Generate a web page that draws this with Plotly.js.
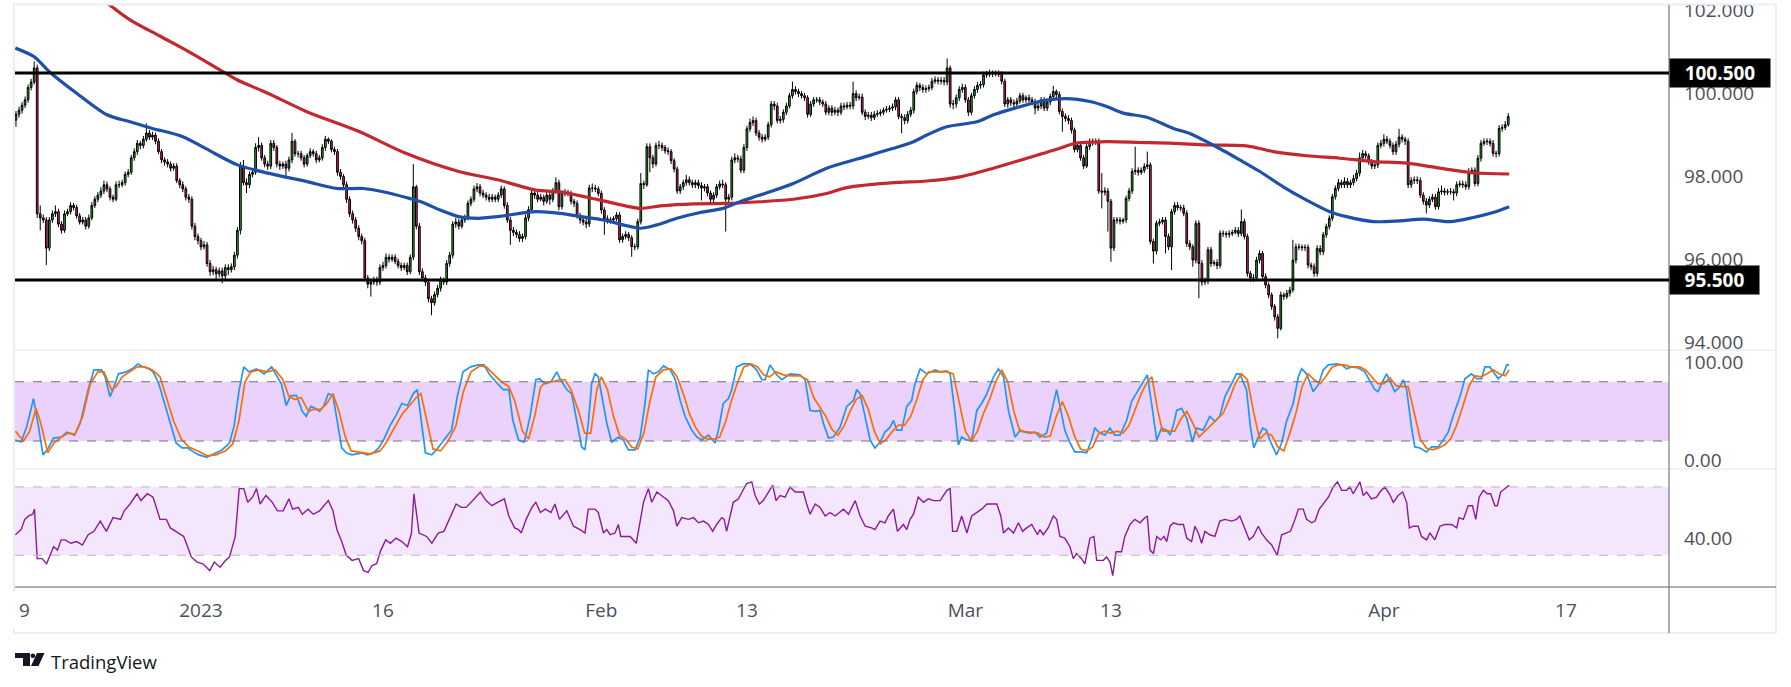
<!DOCTYPE html>
<html>
<head>
<meta charset="utf-8">
<script src="https://cdn.plot.ly/plotly-3.0.1.min.js"></script>
<style>html,body{margin:0;padding:0;background:#fff;}#chart{width:1791px;height:687px;}</style>
</head>
<body>
<div id="chart"></div>
<script>
// ---------- DATA (4H candles, bar 0 = first bar of Dec 19) ----------
const priceOpen = [
99.36,99.50,99.60,99.72,99.85,100.15,100.28,100.62,97.10,97.00,
96.95,96.27,96.95,97.10,97.15,96.85,96.70,97.10,97.15,97.30,
97.25,97.05,96.90,96.95,96.80,97.00,97.30,97.45,97.55,97.65,
97.80,97.70,97.50,97.45,97.80,97.80,97.85,98.05,98.10,98.45,
98.60,98.80,98.75,98.90,99.05,98.95,99.00,98.85,98.60,98.40,
98.35,98.30,98.20,98.25,97.90,97.80,97.70,97.50,97.45,96.80,
96.55,96.45,96.30,96.35,95.90,95.70,95.75,95.65,95.72,95.60,
95.80,95.75,95.82,96.10,96.70,98.25,97.85,97.80,98.05,98.10,
98.70,98.75,98.45,98.30,98.25,98.80,98.70,98.30,98.25,98.30,
98.20,98.40,98.85,98.55,98.55,98.45,98.30,98.50,98.60,98.55,
98.40,98.45,98.70,98.90,98.85,98.65,98.60,98.10,98.00,97.80,
97.45,97.10,96.95,96.75,96.55,96.45,95.55,95.40,95.45,95.50,
95.45,95.80,95.85,96.05,96.00,96.05,95.95,95.85,95.80,95.85,
95.70,96.05,97.75,96.80,95.70,95.55,95.45,95.05,94.95,95.15,
95.30,95.50,95.45,95.90,96.10,96.85,96.90,96.80,96.95,97.00,
97.35,97.45,97.70,97.75,97.60,97.55,97.50,97.45,97.50,97.45,
97.55,97.70,97.30,96.95,96.70,96.65,96.60,96.50,96.55,97.00,
97.20,97.60,97.55,97.45,97.50,97.40,97.55,97.45,97.65,97.85,
97.27,97.60,97.62,97.60,97.40,97.35,97.05,96.95,96.90,96.85,
97.72,97.72,97.70,97.59,97.19,96.98,96.95,96.95,96.98,97.07,
96.47,96.55,96.60,96.52,96.31,96.30,96.91,97.83,97.80,98.72,
98.45,98.30,98.75,98.75,98.70,98.62,98.60,98.38,98.18,97.65,
97.75,97.85,97.92,97.85,97.80,97.85,97.78,97.72,97.75,97.60,
97.45,97.55,97.75,97.82,97.80,97.45,97.50,98.40,98.45,98.42,
98.15,98.70,99.15,99.30,99.35,99.05,98.95,98.90,98.95,99.25,
99.75,99.70,99.35,99.38,99.55,99.70,99.95,100.10,100.05,100.00,
99.95,99.90,99.50,99.75,99.85,99.85,99.80,99.75,99.55,99.65,
99.55,99.60,99.55,99.70,99.68,99.72,99.70,100.00,99.90,99.92,
99.55,99.45,99.48,99.42,99.50,99.52,99.55,99.60,99.62,99.65,
99.68,99.85,99.45,99.42,99.35,99.50,99.60,100.05,100.20,100.15,
100.10,100.12,100.15,100.30,100.33,100.30,100.32,100.28,100.62,99.75,
99.75,99.90,100.10,100.15,99.85,99.55,99.95,100.10,100.20,100.22,
100.45,100.47,100.50,100.48,100.49,100.47,100.30,99.75,99.85,99.78,
99.75,99.82,99.95,99.85,99.90,99.85,99.80,99.65,99.70,99.85,
99.65,99.80,99.93,100.05,99.98,99.57,99.45,99.40,99.35,99.12,
98.65,98.75,98.45,98.25,98.72,98.85,98.82,98.85,97.65,97.62,
97.65,97.40,96.27,96.95,96.95,96.92,96.95,97.47,97.65,98.12,
98.15,98.10,98.15,98.24,98.28,96.43,96.20,96.87,96.90,96.95,
96.55,96.30,97.15,97.30,97.25,97.24,97.11,96.38,96.30,95.98,
96.87,95.90,95.45,95.48,96.23,95.90,95.92,95.85,96.63,96.62,
96.60,96.62,96.65,96.70,96.62,96.91,96.55,95.66,95.55,95.55,
95.98,96.14,95.58,95.38,95.14,94.86,94.61,94.33,95.14,95.10,
95.18,95.26,95.98,96.30,96.30,96.28,96.29,95.86,95.82,95.66,
96.26,96.18,96.59,96.79,96.99,97.51,97.71,97.85,97.80,97.88,
97.80,97.85,97.95,98.08,98.45,98.55,98.50,98.35,98.25,98.28,
98.75,98.80,98.90,98.85,98.75,98.60,98.78,98.95,98.90,98.85,
97.80,97.90,97.92,97.90,97.55,97.40,97.31,97.45,97.50,97.27,
97.63,97.65,97.62,97.63,97.63,97.60,97.80,97.82,97.80,97.75,
98.12,98.15,97.83,98.44,98.80,98.84,98.85,98.80,98.56,98.55,
99.16,99.18,99.25];
const priceClose = [
99.50,99.60,99.72,99.85,100.15,100.28,100.62,97.10,97.00,96.95,
96.27,96.95,97.10,97.15,96.85,96.70,97.10,97.15,97.30,97.25,
97.05,96.90,96.95,96.80,97.00,97.30,97.45,97.55,97.65,97.80,
97.70,97.50,97.45,97.80,97.80,97.85,98.05,98.10,98.45,98.60,
98.80,98.75,98.90,99.05,98.95,99.00,98.85,98.60,98.40,98.35,
98.30,98.20,98.25,97.90,97.80,97.70,97.50,97.45,96.80,96.55,
96.45,96.30,96.35,95.90,95.70,95.75,95.65,95.72,95.60,95.80,
95.75,95.82,96.10,96.70,98.25,97.85,97.80,98.05,98.10,98.70,
98.75,98.45,98.30,98.25,98.80,98.70,98.30,98.25,98.30,98.20,
98.40,98.85,98.55,98.55,98.45,98.30,98.50,98.60,98.55,98.40,
98.45,98.70,98.90,98.85,98.65,98.60,98.10,98.00,97.80,97.45,
97.10,96.95,96.75,96.55,96.45,95.55,95.40,95.45,95.50,95.45,
95.80,95.85,96.05,96.00,96.05,95.95,95.85,95.80,95.85,95.70,
96.05,97.75,96.80,95.70,95.55,95.45,95.05,94.95,95.15,95.30,
95.50,95.45,95.90,96.10,96.85,96.90,96.80,96.95,97.00,97.35,
97.45,97.70,97.75,97.60,97.55,97.50,97.45,97.50,97.45,97.55,
97.70,97.30,96.95,96.70,96.65,96.60,96.50,96.55,97.00,97.20,
97.60,97.55,97.45,97.50,97.40,97.55,97.45,97.65,97.85,97.27,
97.60,97.62,97.60,97.40,97.35,97.05,96.95,96.90,96.85,97.72,
97.72,97.70,97.59,97.19,96.98,96.95,96.95,96.98,97.07,96.47,
96.55,96.60,96.52,96.31,96.30,96.91,97.83,97.80,98.72,98.45,
98.30,98.75,98.75,98.70,98.62,98.60,98.38,98.18,97.65,97.75,
97.85,97.92,97.85,97.80,97.85,97.78,97.72,97.75,97.60,97.45,
97.55,97.75,97.82,97.80,97.45,97.50,98.40,98.45,98.42,98.15,
98.70,99.15,99.30,99.35,99.05,98.95,98.90,98.95,99.25,99.75,
99.70,99.35,99.38,99.55,99.70,99.95,100.10,100.05,100.00,99.95,
99.90,99.50,99.75,99.85,99.85,99.80,99.75,99.55,99.65,99.55,
99.60,99.55,99.70,99.68,99.72,99.70,100.00,99.90,99.92,99.55,
99.45,99.48,99.42,99.50,99.52,99.55,99.60,99.62,99.65,99.68,
99.85,99.45,99.42,99.35,99.50,99.60,100.05,100.20,100.15,100.10,
100.12,100.15,100.30,100.33,100.30,100.32,100.28,100.62,99.75,99.75,
99.90,100.10,100.15,99.85,99.55,99.95,100.10,100.20,100.22,100.45,
100.47,100.50,100.48,100.49,100.47,100.30,99.75,99.85,99.78,99.75,
99.82,99.95,99.85,99.90,99.85,99.80,99.65,99.70,99.85,99.65,
99.80,99.93,100.05,99.98,99.57,99.45,99.40,99.35,99.12,98.65,
98.75,98.45,98.25,98.72,98.85,98.82,98.85,97.65,97.62,97.65,
97.40,96.27,96.95,96.95,96.92,96.95,97.47,97.65,98.12,98.15,
98.10,98.15,98.24,98.28,96.43,96.20,96.87,96.90,96.95,96.55,
96.30,97.15,97.30,97.25,97.24,97.11,96.38,96.30,95.98,96.87,
95.90,95.45,95.48,96.23,95.90,95.92,95.85,96.63,96.62,96.60,
96.62,96.65,96.70,96.62,96.91,96.55,95.66,95.55,95.55,95.98,
96.14,95.58,95.38,95.14,94.86,94.61,94.33,95.14,95.10,95.18,
95.26,95.98,96.30,96.30,96.28,96.29,95.86,95.82,95.66,96.26,
96.18,96.59,96.79,96.99,97.51,97.71,97.85,97.80,97.88,97.80,
97.85,97.95,98.08,98.45,98.55,98.50,98.35,98.25,98.28,98.75,
98.80,98.90,98.85,98.75,98.60,98.78,98.95,98.90,98.85,97.80,
97.90,97.92,97.90,97.55,97.40,97.31,97.45,97.50,97.27,97.63,
97.65,97.62,97.63,97.63,97.60,97.80,97.82,97.80,97.75,98.12,
98.15,97.83,98.44,98.80,98.84,98.85,98.80,98.56,98.55,99.16,
99.18,99.25,99.45];
const priceHigh = [
99.58,99.68,99.80,99.93,100.22,100.36,100.78,100.70,97.30,97.08,
97.02,97.02,97.18,97.30,97.22,96.92,97.18,97.22,97.38,97.36,
97.32,97.12,97.02,97.02,97.08,97.38,97.52,97.62,97.74,97.90,
97.88,97.76,97.56,97.88,97.90,97.92,98.12,98.18,98.52,98.68,
98.88,98.86,98.98,99.28,99.12,99.08,99.06,98.92,98.66,98.46,
98.42,98.36,98.32,98.32,97.96,97.88,97.76,97.58,97.52,96.88,
96.62,96.52,96.44,96.42,95.98,95.84,95.82,95.80,95.80,95.88,
95.88,95.90,96.18,96.78,98.35,98.40,97.95,98.12,98.18,98.80,
98.95,98.82,98.52,98.38,98.88,98.88,98.76,98.38,98.36,98.38,
98.48,99.05,98.90,98.62,98.62,98.52,98.56,98.68,98.66,98.62,
98.52,98.78,98.98,98.94,98.90,98.72,98.66,98.18,98.06,97.88,
97.52,97.18,97.02,96.82,96.62,96.52,95.62,95.52,95.58,95.58,
95.88,95.94,96.14,96.12,96.12,96.12,96.02,95.92,95.92,95.92,
96.12,98.30,97.80,96.88,95.78,95.62,95.52,95.12,95.22,95.38,
95.58,95.56,95.98,96.18,96.92,97.00,96.98,97.02,97.08,97.42,
97.52,97.78,97.84,97.82,97.68,97.62,97.58,97.58,97.56,97.62,
97.78,97.76,97.38,97.02,96.78,96.72,96.68,96.62,97.08,97.28,
97.68,97.66,97.62,97.58,97.56,97.62,97.62,97.72,97.98,97.92,
97.66,97.70,97.68,97.66,97.46,97.42,97.12,97.02,96.98,97.80,
97.83,97.80,97.76,97.66,97.26,97.06,97.02,97.04,97.14,97.14,
96.62,96.68,96.66,96.58,96.38,96.98,98.08,97.90,98.80,98.80,
98.52,98.82,98.86,98.82,98.76,98.70,98.66,98.44,98.24,97.82,
97.92,98.04,98.00,97.92,97.92,97.92,97.86,97.82,97.82,97.66,
97.62,97.82,97.90,97.92,97.86,97.58,98.48,98.56,98.52,98.50,
98.78,99.22,99.40,99.45,99.42,99.12,99.02,99.02,99.32,99.82,
99.82,99.78,99.46,99.62,99.78,100.02,100.29,100.18,100.12,100.06,
100.02,99.96,99.82,99.92,99.92,99.92,99.86,99.82,99.72,99.72,
99.68,99.66,99.78,99.78,99.80,99.80,100.29,100.08,100.00,100.00,
99.62,99.56,99.56,99.58,99.60,99.62,99.66,99.70,99.72,99.76,
99.92,99.92,99.52,99.50,99.58,99.68,100.12,100.28,100.26,100.22,
100.20,100.22,100.38,100.42,100.40,100.40,100.40,100.85,100.68,99.85,
99.98,100.18,100.24,100.22,99.92,100.02,100.18,100.28,100.30,100.53,
100.55,100.58,100.56,100.56,100.56,100.54,100.36,99.92,99.92,99.86,
99.90,100.02,100.02,99.96,99.98,99.92,99.88,99.78,99.92,99.92,
99.88,100.00,100.19,100.10,100.05,99.64,99.52,99.48,99.42,99.18,
98.82,98.82,98.52,98.78,98.92,98.92,98.92,98.92,98.08,97.74,
97.72,97.46,97.02,97.02,97.02,97.00,97.54,97.72,98.20,98.72,
98.22,98.22,98.32,98.60,98.34,96.50,96.94,96.98,97.02,97.02,
96.62,97.22,97.38,97.38,97.32,97.32,97.18,96.46,96.36,96.94,
96.94,95.98,95.56,96.30,96.30,95.98,96.00,96.70,96.70,96.68,
96.70,96.72,96.78,96.78,97.20,96.98,96.62,95.72,95.64,96.06,
96.22,96.20,95.66,95.44,95.20,94.92,94.68,95.22,95.20,95.26,
95.34,96.47,96.38,96.38,96.36,96.36,96.36,95.92,95.90,96.34,
96.34,96.66,96.86,97.06,97.58,97.78,97.94,97.92,97.98,97.96,
97.92,98.04,98.16,98.58,98.64,98.62,98.56,98.42,98.36,98.82,
98.88,99.02,98.98,98.92,98.82,98.86,99.15,99.02,98.96,98.92,
97.98,98.00,98.00,97.98,97.62,97.48,97.52,97.58,97.58,97.72,
97.78,97.72,97.70,97.72,97.70,97.88,97.90,97.90,97.88,98.20,
98.22,98.22,98.52,98.88,98.92,98.92,98.92,98.88,98.62,99.24,
99.26,99.34,99.53];
const priceLow = [
99.20,99.42,99.52,99.65,99.78,100.08,100.22,97.00,96.70,96.88,
95.86,96.20,96.88,97.02,96.78,96.62,96.64,97.04,97.08,97.18,
96.98,96.84,96.84,96.72,96.74,96.94,97.24,97.38,97.48,97.58,
97.62,97.42,97.38,97.40,97.72,97.74,97.78,97.98,98.04,98.38,
98.52,98.66,98.68,98.84,98.88,98.88,98.78,98.54,98.32,98.26,
98.22,98.12,98.14,97.84,97.72,97.62,97.42,97.36,96.72,96.46,
96.36,96.22,96.24,95.82,95.60,95.62,95.52,95.56,95.42,95.52,
95.62,95.68,95.74,96.02,96.60,97.78,97.60,97.72,97.98,98.04,
98.60,98.38,98.22,98.16,98.18,98.62,98.22,98.16,98.18,97.95,
98.12,98.32,98.48,98.46,98.38,98.22,98.24,98.44,98.48,98.32,
98.34,98.38,98.62,98.78,98.58,98.52,98.02,97.92,97.72,97.36,
97.02,96.86,96.66,96.46,96.36,95.46,95.30,95.10,95.38,95.36,
95.38,95.72,95.78,95.92,95.94,95.88,95.78,95.72,95.74,95.62,
95.64,95.98,96.72,95.62,95.46,95.36,94.96,94.65,94.88,95.08,
95.22,95.38,95.38,95.82,96.02,96.76,96.72,96.74,96.88,96.94,
97.28,97.38,97.62,97.52,97.48,97.42,97.38,97.38,97.38,97.38,
97.48,97.22,96.88,96.35,96.56,96.52,96.42,96.42,96.48,96.92,
97.12,97.46,97.38,97.40,97.30,97.34,97.32,97.38,97.58,97.18,
97.20,97.52,97.52,97.32,97.26,96.98,96.86,96.82,96.75,96.78,
97.62,97.62,97.52,97.10,96.59,96.86,96.86,96.88,96.92,96.40,
96.40,96.48,96.44,96.06,96.22,96.24,96.84,97.70,97.75,98.10,
98.20,98.24,98.66,98.62,98.55,98.52,98.30,98.10,97.58,97.58,
97.68,97.78,97.78,97.72,97.72,97.70,97.42,97.64,97.52,97.38,
97.38,97.48,97.68,97.72,96.67,97.38,97.42,98.32,98.34,98.08,
98.08,98.62,99.08,99.22,98.98,98.86,98.82,98.84,98.88,99.18,
99.60,99.28,99.28,99.30,99.48,99.64,99.88,99.98,99.92,99.88,
99.82,99.42,99.44,99.68,99.78,99.72,99.68,99.48,99.48,99.46,
99.48,99.46,99.48,99.60,99.62,99.62,99.62,99.82,99.84,99.48,
99.36,99.38,99.34,99.36,99.44,99.45,99.48,99.54,99.55,99.58,
99.60,99.38,99.04,99.26,99.28,99.44,99.52,99.98,100.06,100.02,
100.02,100.05,100.08,100.24,100.22,100.22,100.20,100.20,99.66,99.62,
99.66,99.82,100.02,99.78,99.46,99.48,99.88,100.02,100.12,100.15,
100.38,100.40,100.40,100.42,100.40,100.22,99.68,99.66,99.70,99.66,
99.68,99.76,99.78,99.78,99.78,99.72,99.50,99.58,99.62,99.58,
99.58,99.72,99.86,99.90,99.50,99.08,99.32,99.26,99.04,98.58,
98.58,98.38,98.18,98.20,98.64,98.74,98.76,97.58,97.23,97.54,
96.67,95.94,96.20,96.86,96.84,96.86,96.88,97.40,97.58,98.04,
98.02,98.04,98.08,98.18,96.36,95.90,96.12,96.80,96.84,96.14,
96.22,95.74,97.08,97.18,97.16,97.04,96.30,96.22,95.82,95.90,
95.06,95.36,95.38,95.40,95.82,95.84,95.76,95.78,96.54,96.52,
96.52,96.56,96.60,96.54,96.56,96.48,95.58,95.46,95.46,95.48,
95.90,95.50,95.30,95.06,94.78,94.52,94.09,94.28,95.02,95.04,
95.10,95.20,95.90,96.22,96.20,96.20,95.78,95.74,95.58,95.58,
96.10,96.10,96.52,96.72,96.92,97.44,97.64,97.72,97.72,97.72,
97.72,97.78,97.88,98.00,98.38,98.42,98.28,98.18,98.18,98.20,
98.68,98.72,98.78,98.68,98.52,98.52,98.70,98.82,98.76,97.72,
97.72,97.82,97.82,97.48,97.32,97.11,97.24,97.38,97.20,97.20,
97.56,97.54,97.55,97.56,97.42,97.52,97.74,97.72,97.68,97.68,
98.05,97.76,97.76,98.36,98.74,98.76,98.72,98.48,98.46,98.48,
99.08,99.12,99.20];

// 200-period SMA (red) and 100-period SMA (blue), read at points (bar index, price)
const smaBlueX = [-1.2,5,10,19,29,36.6,44,54,64.4,72,82,94.7,104.8,113.6,120,128.7,132.5,138.8,145,151.4,157.8,170.4,178.4,185.5,192.7,204.8,210.3,216.9,224.6,232.2,237.7,244.3,255.3,266.3,277.3,288.3,294.9,299.3,305.9,315.8,321.3,332.3,337.7,345.4,353.1,358.6,364.1,371.8,380.6,386,393.7,402.5,409.1,416.8,424.5,432.2,437.7,446.5,455.3,463,471.8,479.5,486,491.3];
const smaBlue = [101.10,100.89,100.53,100.01,99.49,99.32,99.16,98.96,98.56,98.28,98.08,97.88,97.71,97.71,97.63,97.47,97.39,97.19,97.03,96.99,97.03,97.15,97.11,97.03,96.95,96.75,96.83,96.99,97.13,97.23,97.39,97.55,97.83,98.20,98.44,98.68,98.84,99.00,99.20,99.32,99.49,99.73,99.83,99.88,99.81,99.69,99.53,99.43,99.16,99.04,98.76,98.40,98.12,97.75,97.43,97.15,97.03,96.91,96.93,96.97,96.91,97.01,97.13,97.27];
const smaRedX = [28,36.6,46.7,56.8,68.2,72,82,94.7,112.3,127.5,145,157.8,170.4,178.4,191.6,204.8,211.4,222.4,233.3,244.3,255.3,266.3,272.9,288.3,299.3,310.3,321.3,332.3,343.2,347.6,358.6,369.6,380.6,391.5,404.7,413.5,424.5,435.5,446.5,457.5,468.5,479.5,491.3];
const smaRed = [102.25,101.78,101.38,100.98,100.49,100.33,100.01,99.57,99.08,98.56,98.12,97.92,97.67,97.63,97.43,97.23,97.29,97.34,97.35,97.39,97.45,97.59,97.73,97.85,97.89,97.99,98.20,98.44,98.68,98.79,98.84,98.82,98.80,98.76,98.74,98.60,98.50,98.44,98.36,98.32,98.20,98.09,98.06];

// Stochastic %K / %D
const stochKX = [-1.2,0.7,2.6,3.8,4.8,6.4,7.9,9.5,11.4,13.9,15.8,18.3,20.2,22.8,24.7,27.2,28.4,30,31,32.8,35.4,37.3,39.2,41.1,42.9,44.2,46.1,48,49.9,51.8,53.7,55.6,57.5,59.3,61.9,64.4,66.9,69.4,70.9,72.6,74.1,75.8,78.3,80.8,83.3,84.6,86.5,88.1,89.6,91.5,93.4,94.7,96.2,97.8,99.1,100.4,102,103.5,104.8,106.4,107.9,109.8,113,114.9,116.8,118.6,120.5,122.4,124.3,126.2,128.1,130,131.3,132.5,134,136.1,137.6,140.1,142.6,144.5,146.4,148.9,151.4,153.3,155.2,157.8,159.6,161.5,162.8,164.7,166.6,168.5,170.4,171.6,173.5,175.4,177.3,
178.4,179.5,180.6,182.2,183.9,185.5,186.6,187.7,188.8,189.9,191,192.1,193.8,195.4,197.6,199.3,200.9,203.1,204.8,206.4,207.5,209.2,210.8,212.5,214.7,216.3,218,219.6,221.8,223.5,225.1,227.3,229.5,230.6,232.2,233.9,235,236.6,238.8,241,243.2,244.9,246,247.6,249.8,251.5,254.2,257.5,259.2,260.8,262.5,264.1,265.2,266.9,268.5,270.7,272.9,275.1,276.2,277.3,279,280.6,282.2,283.9,285.5,287.2,288.3,289.4,291,292.7,294.3,295.4,297.1,299.3,302,303.7,305.9,307,308.6,309.7,310.8,312.5,314.1,315.8,317.4,319.1,321.3,322.9,324.6,326.2,328.4,330.1,331.7,333.3,335,
336.6,338.8,340.4,342.1,343.7,344.8,346.5,348.1,350.3,352,353.6,354.7,356.4,358,359.7,361.3,363,365.2,366.8,369,370.7,372,373.4,375.1,376.7,378.4,379.5,380.6,381.7,383.3,385,386.9,388.2,390.4,392.6,394.3,395.9,397.6,399.8,401.4,402.5,404.7,406,407.1,408.6,410,411.3,412.4,414.6,416.3,417.9,420.1,421.8,422.9,424.5,426.7,428.4,430,431.7,434.4,436.1,437.7,439.4,441.5,443.7,445.4,447,448.1,449.2,450.9,452.5,453.6,455.3,456.4,457.5,459.1,460.2,461.9,464.1,465.7,467.9,469.6,471.2,472.9,475.1,476.7,478.9,480.6,482.2,483.3,484.9,486.6,487.7,489.4,490.5,491.3];
const stochK = [21,19,35,51,63,35,6,12,23,24,29,26,38,72,92,92,85,65,72,88,90,93,98,95,93,90,78,58,38,18,13,13,9,6,3.5,7.5,11,18,35,72,95,90,93,88,95,88,78,56,66,66,50,45,55,53,50,55,68,66,40,13,8,6,8,6,8,13,23,36,46,58,56,68,72,45,8,6,11,21,31,65,90,95,97,97,87,78,72,72,41,21,19,45,82,83,78,80,90,
83,78,72,68,41,14,11,38,78,88,85,65,38,19,24,21,11,11,24,58,92,88,90,96,92,83,61,45,31,24,21,26,18,31,58,63,72,95,98,98,92,82,82,97,87,82,88,87,82,51,50,51,38,23,24,34,55,61,72,68,45,21,13,19,29,34,41,31,31,55,61,78,93,88,92,90,91,88,48,16,24,21,21,51,58,68,85,93,85,51,24,31,29,28,29,
24,28,48,72,48,31,18,9,9,8,21,33,28,26,33,26,26,41,60,72,80,87,58,21,33,31,26,36,51,53,43,19,33,31,45,40,45,65,78,88,88,72,34,13,24,33,31,21,6,18,40,58,85,93,88,70,77,92,97,98,97,93,95,94,90,80,72,70,78,88,78,70,75,82,72,34,14,13,9,14,14,21,29,46,65,83,88,83,83,95,95,87,83,88,97,97];
const stochDX = [-1.2,1.5,3.5,5.6,7,9.5,11.5,14,16.3,18.5,21,23.5,26,28,30.5,32,34,36.5,39,41.5,44,46.5,49,51,53.5,56,59,62,65,68,70.5,72.5,74.5,76.5,79,82,84.5,87,89,91,93,95.5,97,99.5,101.5,103.5,105.5,107.5,109.5,113,116,119,121,123.5,126.5,128.5,131,132.5,134.5,136.5,139,141.5,144,146.5,149,152,154,156.5,159,161.5,163.5,166,168,170,172,174,176,178,180,182,184.5,186.5,188.5,190.5,192,194,196,198,200,202,204,206,208,210,212.5,215,217,219,221,223,225,227,229,231,233,235,237,239,241.5,243.5,245.5,247.5,249.5,252,254.5,257.5,260,262,264,266,268,270,272,274,276,278,280,282,284,286,288,290,292,294,296,298,300,303,306,308,310,312,314,316,318,320,322,324,326,328,330,333,336,338,340,342,344,346,348,350,352,354,356,358,360,362,364,366,368,370,372,373.5,375.5,377,379,381,383,385,387,389,391,393,395,397,399,401,403,405,407,409,411,413,415,417,419,421,423,425,427,429,431,433,435,437,439,442,444,446,448,450,452,454,456,458,460,462,464,466,468,470,472,474,476,478,480,482,484,486,488,490,491.3];
const stochD = [30,20,30,53,40,8,18,24,28,27,45,78,90,90,72,75,85,90,95,95,92,85,60,40,22,14,10,5,6,10,17,40,80,90,92,90,92,82,65,62,64,50,52,52,58,68,50,25,10,8,7,10,18,32,48,55,64,68,40,12,10,20,35,70,90,96,95,88,80,75,60,30,22,45,75,80,80,82,82,72,50,28,28,72,85,72,45,26,22,14,12,28,60,85,92,93,85,68,48,34,25,22,22,24,40,62,80,95,98,95,87,85,90,87,86,86,82,64,55,45,32,26,35,50,62,66,52,30,17,22,30,36,36,45,62,82,90,90,90,88,60,30,20,30,48,62,80,92,80,50,30,29,28,24,25,45,60,45,25,12,10,14,28,30,28,30,28,36,52,68,80,85,50,30,30,30,42,50,38,24,30,36,41,48,62,78,88,82,50,22,28,26,14,10,28,48,75,88,82,78,86,95,97,97,95,95,92,85,78,78,84,76,75,75,50,22,13,11,13,16,22,36,55,75,86,85,88,92,88,86,92];

// RSI
const rsiX = [-1.2,0.7,1.9,3.2,4.5,5.1,6,7.6,9.1,10.1,11.4,12.7,13.9,15.2,17.1,19,20.9,22.8,24.7,26.8,28.8,31,33.5,34.7,36.6,38.9,40.2,42.3,44.2,46.5,48.6,49.9,52.4,54.3,55.6,56.8,58.7,60.6,62.9,64.4,66.3,68.1,69.4,71.3,72.6,74.1,75.4,77,78.3,79.5,81.4,83.5,85.2,87.1,89,90.2,92.1,93.4,95.3,97,99.1,102,103.5,104.8,106.4,107.9,109.8,112,113.6,115.1,116.4,117.9,119.3,120.9,122.4,124.3,126.2,128.1,129.4,130.2,131.9,134.4,136.1,138.2,140.1,142,144.1,145.8,147.4,149.6,152.1,154,155.9,157.8,160,161.5,163.4,164.7,165.6,167.2,169.1,170.4,171.9,173.5,175.4,176.7,178.2,
180.6,182.8,185,186.6,187.7,189.9,191,192.7,193.8,194.9,196.5,197.6,198.4,199.8,201.5,203.5,204.8,205.9,207.5,208.6,210.3,211.9,214.1,215.8,216.9,218.5,220.7,222.4,224,225.7,227.3,228.7,230,231.7,232.5,233.3,235.5,237.2,238.6,239.9,241.6,242.7,244.1,245.4,247.1,248.5,249.6,250.9,252.6,254.2,255.9,258.6,259.7,260.8,262.5,264.1,265.8,267.4,269.1,271.8,273.5,275.7,277.3,279,281.1,282.2,283.9,285.5,286.6,288.3,289.6,291.6,292.7,293.8,294.9,296.5,298.2,299.8,301.5,303.7,305.9,307,307.8,309.2,310.8,312.5,314.1,315.8,317.4,319.1,322.4,323.7,324.6,326.2,327.9,329.5,330.9,332.2,333.9,335.8,
336.6,337.7,339.3,341,342.1,343.2,344.8,346.5,347.6,348.7,350.3,351.4,353.1,354.4,355.3,357.5,358.6,359.7,360.6,361.7,363.5,364.6,366.3,367.9,369.6,371.2,372,372.9,374,375.1,376.4,377.5,378.4,379.5,380.6,382.2,383.9,385,386.6,387.7,388.8,389.9,391,392.6,394.3,395.9,397.6,399.8,401.4,402.5,404.2,405.6,406.9,408.6,409.7,411.3,413,414.8,416.3,417.9,419.2,420.7,421.8,423.4,424.5,426.2,427.3,428.7,430,431.7,433.3,434.7,436.1,437.7,438.8,439.9,442.1,443.2,444.3,445.9,447.6,448.7,450.3,451.8,453.1,454.7,456.2,457.5,458.4,459.7,461.3,462.4,464.1,465.2,466.8,468.5,470.1,472.3,474,474.8,476.2,477.8,479.2,480.3,481.4,482.8,484.1,485.2,486.6,487.4,488.5,490,491.3];
const rsi = [42,45,51,53,54,57,28,28,25,29,35,33,39,39,37,38,36,42,44,50,44,52,51,56,60,66,62,66,64,51,51,46,43,41,35,29,26,25,21,26,23,27,29,41,69,69,61,64,69,60,65,61,56,56,63,57,58,54,57,54,56,62,56,45,38,30,27,28,21,20,24,25,33,39,37,40,38,35,43,66,43,41,37,43,44,52,60,58,58,62,67,62,59,61,63,53,46,45,43,51,58,61,55,57,55,60,51,
56,47,45,43,57,57,55,43,45,42,43,48,41,41,41,37,49,61,69,61,67,65,62,56,47,52,51,52,49,50,48,44,48,52,51,44,61,63,68,72,73,65,60,62,67,71,62,65,64,70,67,67,60,54,60,58,53,55,53,57,54,62,53,47,46,45,50,49,53,57,44,48,45,51,54,64,61,63,62,62,68,69,44,44,53,43,53,55,57,60,60,53,43,46,43,49,44,46,48,42,
45,42,46,53,51,41,40,35,28,31,28,25,40,41,27,27,29,26,18,32,32,41,48,51,49,52,53,33,31,41,39,41,38,47,49,48,48,40,38,47,43,37,44,42,41,50,51,50,51,53,45,39,41,47,43,39,36,30,42,43,44,51,57,57,51,49,50,57,60,64,70,73,68,68,70,66,73,65,67,63,64,67,70,66,61,65,67,61,46,47,47,41,39,43,39,47,48,48,46,52,51,59,59,51,64,68,66,66,59,59,67,69,71];

// Axis labels
const tickDays = [0,10,20,32,40,52,60,75,85];
const tickLabels = ['19','2023','16','Feb','13','Mar','13','Apr','17'];
const priceTicks = [94,96,98,100,102];
const levelValues = [100.5,95.5];
const levelLabels = ['100.500','95.500'];

// ---------- CHART ----------
const W = 1791, H = 687, ML = 15, MR = 122, MT = 5, MB = 100;
const PW = W - ML - MR, PH = H - MT - MB;
const P = px => (px - ML) / PW;          // pixel x -> paper
const Q = py => (H - MB - py) / PH;      // pixel y -> paper
const FONT = 'Open Sans, sans-serif';
const TXT = '#4c4f59';
const barX = priceClose.map((_, k) => k - 1);

const traces = [
  {type:'scatter', mode:'lines', x:smaRedX, y:smaRed, xaxis:'x', yaxis:'y',
   line:{color:'#c3282e', width:3.2, shape:'spline', smoothing:0.8}, hoverinfo:'skip'},
  {type:'scatter', mode:'lines', x:smaBlueX, y:smaBlue, xaxis:'x', yaxis:'y',
   line:{color:'#1d50a9', width:3.2, shape:'spline', smoothing:0.8}, hoverinfo:'skip'},
  {type:'candlestick', x:barX, open:priceOpen, high:priceHigh, low:priceLow, close:priceClose,
   xaxis:'x', yaxis:'y', whiskerwidth:0,
   increasing:{line:{color:'#000000', width:1}, fillcolor:'#22a822'},
   decreasing:{line:{color:'#000000', width:1}, fillcolor:'#e5176f'},
   hoverinfo:'skip'},
  {type:'scatter', mode:'lines', x:stochKX, y:stochK, xaxis:'x', yaxis:'y2',
   line:{color:'#2196f3', width:1.7}, hoverinfo:'skip'},
  {type:'scatter', mode:'lines', x:stochDX, y:stochD, xaxis:'x', yaxis:'y2',
   line:{color:'#ff6d00', width:1.7}, hoverinfo:'skip'},
  {type:'scatter', mode:'lines', x:rsiX, y:rsi, xaxis:'x', yaxis:'y3',
   line:{color:'#8a1b9a', width:1.4}, hoverinfo:'skip'}
];

const yCommon = {side:'right', anchor:'x', showgrid:false, zeroline:false, showline:false,
  ticks:'', ticklabelstandoff:14, ticklabeloverflow:'allow',
  tickfont:{family:FONT, size:19, color:TXT}, fixedrange:true};

const shapes = [
  // stoch band & levels
  {type:'rect', xref:'paper', yref:'y2', x0:0, x1:1, y0:20, y1:80, fillcolor:'#ead2fc', line:{width:0}, layer:'below'},
  {type:'line', xref:'paper', yref:'y2', x0:0, x1:1, y0:80, y1:80, line:{color:'#6f727c', width:1, dash:'dash'}},
  {type:'line', xref:'paper', yref:'y2', x0:0, x1:1, y0:20, y1:20, line:{color:'#6f727c', width:1, dash:'dash'}},
  // RSI band & levels
  {type:'rect', xref:'paper', yref:'y3', x0:0, x1:1, y0:30, y1:70, fillcolor:'#f4e6fd', line:{width:0}, layer:'below'},
  {type:'line', xref:'paper', yref:'y3', x0:0, x1:1, y0:70, y1:70, line:{color:'#b9b6c2', width:1, dash:'dash'}},
  {type:'line', xref:'paper', yref:'y3', x0:0, x1:1, y0:30, y1:30, line:{color:'#b9b6c2', width:1, dash:'dash'}},
  // pane separators
  {type:'line', xref:'paper', yref:'paper', x0:0, x1:P(1776), y0:Q(350), y1:Q(350), line:{color:'#e0e3eb', width:1}},
  {type:'line', xref:'paper', yref:'paper', x0:0, x1:P(1776), y0:Q(469), y1:Q(469), line:{color:'#e0e3eb', width:1}},
  // outer frame
  {type:'rect', xref:'paper', yref:'paper', x0:P(14), x1:P(1776), y0:Q(633), y1:Q(4.5), line:{color:'#eceef3', width:2}, fillcolor:'rgba(0,0,0,0)'},
  // price scale separator and time axis line
  {type:'line', xref:'paper', yref:'paper', x0:1, x1:1, y0:Q(633), y1:Q(5), line:{color:'#5d606b', width:1}},
  {type:'line', xref:'paper', yref:'paper', x0:0, x1:P(1776), y0:0, y1:0, line:{color:'#5d606b', width:1}},
  // cover the clipped part of first date label
  {type:'rect', xref:'paper', yref:'paper', x0:P(0), x1:P(16.5), y0:Q(628), y1:Q(592), fillcolor:'#ffffff', line:{width:0}, layer:'above'},
  // TradingView logo
  {type:'rect', xref:'paper', yref:'paper', x0:P(15), x1:P(30), y0:Q(658), y1:Q(653), fillcolor:'#131722', line:{width:0}},
  {type:'rect', xref:'paper', yref:'paper', x0:P(23), x1:P(30), y0:Q(666), y1:Q(653), fillcolor:'#131722', line:{width:0}},
  {type:'circle', xref:'paper', yref:'paper', x0:P(30.6), x1:P(35.2), y0:Q(658), y1:Q(653.4), fillcolor:'#131722', line:{width:0}},
  {type:'path', xref:'paper', yref:'paper',
   path:`M ${P(37)} ${Q(653)} L ${P(44.5)} ${Q(653)} L ${P(38.5)} ${Q(666)} L ${P(31)} ${Q(666)} Z`,
   fillcolor:'#131722', line:{width:0}}
];
levelValues.forEach(v => shapes.push(
  {type:'line', xref:'paper', yref:'y', x0:0, x1:1, y0:v, y1:v, line:{color:'#000000', width:3}, layer:'above'}));

const annotations = levelValues.map((v, k) => ({
  xref:'paper', yref:'y', x:1, y:v, xanchor:'left', yanchor:'middle', showarrow:false,
  text:'<b>' + levelLabels[k] + '</b>', bgcolor:'#000000', borderpad:1,
  width: k === 0 ? 98 : 87, height:26, align:'center',
  font:{family:FONT, size:19, color:'#ffffff'}
}));
annotations.push({xref:'paper', yref:'paper', x:P(49), y:Q(661), xanchor:'left', yanchor:'middle',
  showarrow:false, text:'TradingView', font:{family:FONT, size:18.5, color:'#131722'}});

const layout = {
  width:W, height:H, margin:{l:ML, r:MR, t:MT, b:MB, pad:0},
  paper_bgcolor:'#ffffff', plot_bgcolor:'#ffffff', showlegend:false, hovermode:false,
  font:{family:FONT, color:TXT}, boxgap:0.2,
  xaxis:{range:[-1.32, 544], anchor:'y3', showgrid:false, zeroline:false, showline:false,
    tickvals:tickDays.map(d => d * 6), ticktext:tickLabels, ticks:'', ticklabelstandoff:10,
    tickfont:{family:FONT, size:19, color:TXT}, rangeslider:{visible:false}, fixedrange:true},
  yaxis:Object.assign({}, yCommon, {domain:[0.40722, 1], range:[93.81, 102.14],
    tickvals:priceTicks, tickformat:'.3f'}),
  yaxis2:Object.assign({}, yCommon, {domain:[0.20275, 0.40722], range:[-8.3, 112.1],
    tickvals:[0, 100], ticktext:['0.00', '100.00']}),
  yaxis3:Object.assign({}, yCommon, {domain:[0, 0.20275], range:[11.4, 80.5],
    tickvals:[40], ticktext:['40.00']}),
  shapes:shapes, annotations:annotations
};

Plotly.newPlot('chart', traces, layout, {displayModeBar:false, staticPlot:true});
</script>
</body>
</html>
